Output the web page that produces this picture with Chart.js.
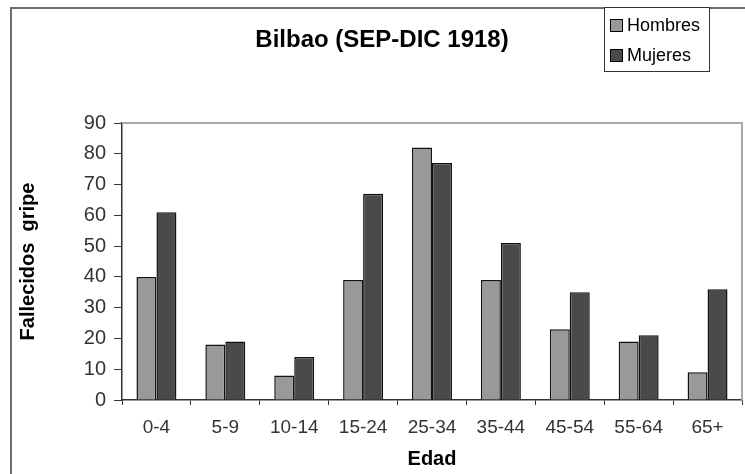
<!DOCTYPE html>
<html lang="es">
<head>
  <meta charset="UTF-8">
  <title>Bilbao (SEP-DIC 1918)</title>
  <style>
    html, body { margin: 0; padding: 0; background: #fff; }
    #wrap { width: 745px; height: 474px; }
  </style>
</head>
<body>
  <div id="wrap"><canvas id="myChart" width="745" height="474"></canvas></div>

  <script src="https://cdn.jsdelivr.net/npm/chart.js"></script>
  <script>
const labels = ['0-4', '5-9', '10-14', '15-24', '25-34', '35-44', '45-54', '55-64', '65+'];
const hombres = [40, 18, 8, 39, 82, 39, 23, 19, 9];
const mujeres = [61, 19, 14, 67, 77, 51, 35, 21, 36];
const yTicks = [0, 10, 20, 30, 40, 50, 60, 70, 80, 90];

const FONT = "'Liberation Sans', Arial, sans-serif";

// marco exterior, borde del área de trazado, título y leyenda al estilo Excel
const excelFrame = {
  id: 'excelFrame',
  beforeDatasetsDraw: (chart) => {
    const ctx = chart.ctx;
    const a = chart.chartArea;
    ctx.save();
    ctx.strokeStyle = '#a8a8a8';
    ctx.lineWidth = 2;
    ctx.beginPath();
    ctx.moveTo(a.left, a.top);
    ctx.lineTo(a.right, a.top);
    ctx.lineTo(a.right, a.bottom);
    ctx.stroke();
    ctx.restore();
  },
  afterDraw: (chart) => {
    const ctx = chart.ctx;
    ctx.save();
    // marco exterior
    ctx.strokeStyle = '#6e6e6e';
    ctx.lineWidth = 2;
    ctx.beginPath();
    ctx.moveTo(11, 480);
    ctx.lineTo(11, 8);
    ctx.lineTo(750, 8);
    ctx.stroke();

    // título
    ctx.fillStyle = '#000';
    ctx.font = 'bold 24px ' + FONT;
    ctx.textAlign = 'center';
    ctx.textBaseline = 'middle';
    ctx.fillText('Bilbao (SEP-DIC 1918)', 382, 40);

    // leyenda
    ctx.fillStyle = '#fff';
    ctx.fillRect(604, 7, 105, 64);
    ctx.strokeStyle = '#333';
    ctx.lineWidth = 1;
    ctx.strokeRect(604.5, 7.5, 105, 64);
    ctx.font = '18px ' + FONT;
    ctx.textAlign = 'left';
    chart.data.datasets.forEach((ds, i) => {
      const y = 25 + i * 30;
      ctx.fillStyle = ds.backgroundColor;
      ctx.fillRect(610, y - 6, 13, 13);
      ctx.strokeStyle = '#000';
      ctx.strokeRect(610.5, y - 5.5, 12, 12);
      ctx.fillStyle = '#000';
      ctx.fillText(ds.label, 627, y + 1);
    });
    ctx.restore();
  }
};

const ctx = document.getElementById('myChart').getContext('2d');
const myChart = new Chart(ctx, {
  type: 'bar',
  data: {
    labels: labels,
    datasets: [
      {
        label: 'Hombres',
        data: hombres,
        backgroundColor: '#999999',
        borderColor: '#111',
        borderWidth: 1.5
      },
      {
        label: 'Mujeres',
        data: mujeres,
        backgroundColor: '#4a4a4a',
        borderColor: '#111',
        borderWidth: 1.5
      }
    ]
  },
  options: {
    responsive: false,
    animation: false,
    layout: { padding: { left: 0, top: 123, right: 3, bottom: 0 } },
    datasets: { bar: { categoryPercentage: 0.58, barPercentage: 1 } },
    scales: {
      x: {
        offset: true,
        afterFit: (scale) => { scale.height = 74; },
        grid: {
          offset: true,
          drawOnChartArea: false,
          drawTicks: true,
          tickLength: 5,
          color: '#333'
        },
        border: { display: true, color: '#333', width: 1.5 },
        ticks: {
          color: '#333',
          font: { family: FONT, size: 19 },
          padding: 11,
          maxRotation: 0
        },
        title: {
          display: true,
          text: 'Edad',
          color: '#000',
          font: { family: FONT, size: 20, weight: 'bold' },
          padding: { top: 0, bottom: 3 }
        }
      },
      y: {
        min: 0,
        max: 90,
        afterFit: (scale) => { scale.width = 122; },
        afterBuildTicks: (scale) => { scale.ticks = yTicks.map(v => ({ value: v })); },
        grid: {
          drawOnChartArea: false,
          drawTicks: true,
          tickLength: 8,
          color: '#333'
        },
        border: { display: true, color: '#333', width: 1.5 },
        ticks: {
          color: '#333',
          font: { family: FONT, size: 20 },
          padding: 8
        },
        title: {
          display: true,
          text: 'Fallecidos  gripe',
          color: '#000',
          font: { family: FONT, size: 20, weight: 'bold' },
          padding: { top: 16, bottom: 0 }
        }
      }
    },
    plugins: {
      legend: { display: false },
      title: { display: false },
      tooltip: { enabled: false }
    }
  },
  plugins: [excelFrame]
});
  </script>
</body>
</html>
